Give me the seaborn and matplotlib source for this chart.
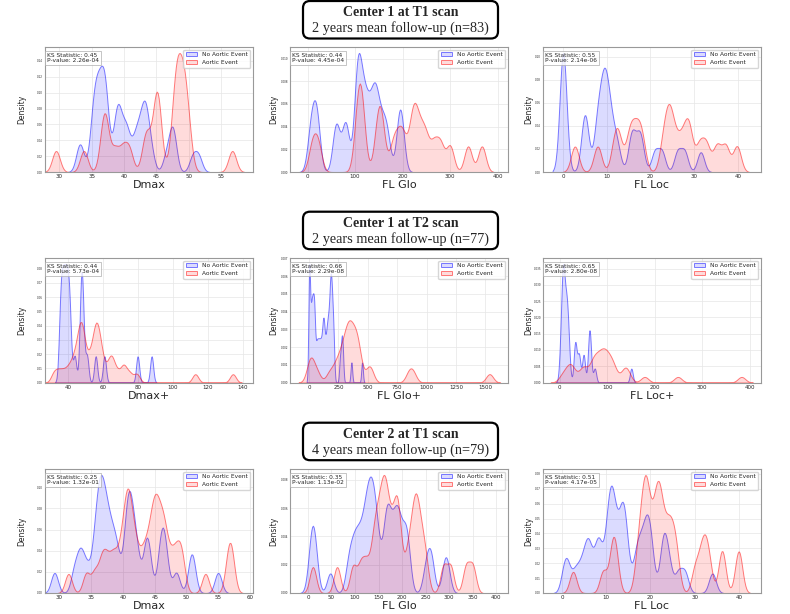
import numpy as np
import matplotlib
matplotlib.use("Agg")
import matplotlib.pyplot as plt
from matplotlib.patches import FancyBboxPatch
from matplotlib.ticker import MultipleLocator
from matplotlib.colors import to_rgba
import seaborn as sns

sns.set_theme(style="whitegrid")
plt.rcParams["font.family"] = ["DejaVu Sans"]

# ---------------- data ----------------
row_titles = ["Center 1 at T1 scan", "Center 1 at T2 scan", "Center 2 at T1 scan"]
row_subtitles = ["2 years mean follow-up (n=83)", "2 years mean follow-up (n=77)",
                 "4 years mean follow-up (n=79)"]
features = ["Dmax", "FL Glo", "FL Loc", "Dmax+", "FL Glo+", "FL Loc+", "Dmax", "FL Glo", "FL Loc"]
group_labels = ["No Aortic Event", "Aortic Event"]
ks_stats = [0.45, 0.44, 0.55, 0.44, 0.66, 0.65, 0.25, 0.35, 0.51]
p_values = [2.26e-04, 4.45e-04, 2.14e-06, 5.73e-04, 2.29e-08, 2.80e-08, 1.32e-01, 1.13e-02, 4.17e-05]

c1t1_dmax_no = [33.0, 33.4, 35.0, 35.2, 35.4, 35.6, 35.8, 36.0, 36.2, 36.4, 36.6, 36.8, 37.0, 37.1,
                37.2, 37.4, 38.6, 38.8, 39.0, 39.2, 39.5, 40.0, 40.4, 40.6, 41.5, 41.9, 42.3, 42.7,
                43.0, 43.2, 43.4, 43.6, 44.2, 46.5, 47.3, 47.5, 47.7, 50.6, 51.5]
c1t1_dmax_ev = [29.5, 33.8, 36.7, 37.0, 37.3, 38.6, 39.8, 40.8, 43.2, 43.7, 44.8, 45.0, 45.2, 45.4,
                47.5, 47.9, 48.0, 48.3, 48.5, 48.8, 49.1, 49.3, 49.6, 50.0, 56.7]
c1t1_glo_no = [4, 8, 12, 17, 19, 22, 57, 60, 64, 77, 80, 83, 101, 103, 105, 106, 107, 109, 113,
               116, 119, 122, 126, 130, 134, 138, 141, 143, 146, 150, 155, 160, 165, 170, 191, 194,
               196, 199]
c1t1_glo_ev = [10, 22, 104, 108, 112, 116, 146, 152, 157, 180, 192, 202, 218, 224, 230, 240, 250,
               266, 280, 300, 338, 367]
c1t1_loc_no = [0.0, 0.0, 0.0, 0.0, 0.0, 0.0, 4.7, 5.0, 5.3, 7.5, 8.0, 8.5, 9.0, 9.3, 9.6, 9.9,
               10.3, 10.8, 11.5, 12.5, 15.5, 16.0, 17.3, 17.9, 21.0, 22.6, 26.2, 27.8, 31.5]
c1t1_loc_ev = [2.7, 7.9, 11.8, 12.8, 15.0, 16.0, 17.1, 18.1, 22.9, 24.0, 24.4, 25.5, 27.0, 28.3,
               29.0, 31.2, 32.8, 35.2, 37.2, 39.8]

c1t2_dmax_no = [35.4, 35.9, 36.4, 36.9, 37.4, 37.9, 38.4, 38.9, 39.4, 39.9, 40.4, 40.9, 41.5, 44.0,
                47.3, 47.6, 47.9, 48.4, 48.8, 51.0, 56.0, 61.0, 80.0, 88.0]
c1t2_dmax_ev = [32.0, 34.5, 37.0, 39.5, 41.5, 43.0, 44.2, 45.2, 46.0, 46.6, 47.2, 47.6, 48.0, 48.4,
                48.9, 49.5, 51.2, 52.3, 53.5, 54.5, 55.3, 55.8, 56.2, 56.6, 57.0, 57.6, 58.3, 59.2,
                60.0, 62.5, 64.3, 65.0, 66.0, 68.5, 71.5, 72.5, 75.5, 79.5, 113.0, 134.5]
c1t2_glo_no = [0, 0, 0, 0, 0, 8, 13, 18, 22, 26, 30, 34, 38, 42, 45, 50, 60, 68, 76, 84, 92, 100,
               108, 115, 120, 125, 130, 138, 146, 152, 158, 163, 168, 173, 177, 180, 183, 186, 189,
               192, 196, 200, 205, 211, 262, 274, 280, 287, 360, 451]
c1t2_glo_ev = [0, 12, 28, 70, 170, 215, 240, 265, 280, 295, 310, 320, 330, 338, 345, 355, 365, 378,
               390, 400, 410, 420, 435, 505, 525, 850, 885, 1537]
c1t2_loc_no = [1, 3, 4.5, 5.5, 6.5, 7, 7.5, 8, 8.5, 9.5, 11, 12.5, 13.5, 14.5, 15.5, 16.5, 18, 20,
               31.5, 33, 34, 40, 41.5, 50, 51, 61.5, 62.5, 63.5, 64.5, 74, 151]
c1t2_loc_ev = [5, 15, 20, 25, 30, 45, 50, 55, 67, 70, 73, 77, 81, 85, 88, 91, 94, 97, 100, 104, 108,
               112, 117, 134, 139, 144, 179, 249, 383]

c2t1_dmax_no = [29.2, 32.3, 33.1, 33.5, 34.3, 35.3, 35.7, 36.0, 36.2, 36.4, 36.6, 36.8, 37.1, 37.3,
                37.6, 38.0, 38.3, 38.8, 39.2, 40.3, 40.6, 40.8, 41.0, 41.2, 41.5, 41.9, 42.3, 43.5,
                43.8, 44.1, 45.8, 46.1, 46.4, 46.8, 48.4, 50.7, 51.0, 55.0]
c2t1_dmax_ev = [31.4, 34.2, 35.5, 36.5, 37.0, 37.6, 38.3, 38.8, 39.5, 39.9, 40.3, 40.5, 40.7, 40.9,
                41.1, 41.4, 41.8, 42.2, 42.9, 43.4, 43.9, 44.3, 44.6, 44.9, 45.1, 45.3, 45.6, 45.9,
                46.2, 46.5, 46.8, 47.4, 48.0, 48.5, 49.0, 49.4, 53.0, 56.5, 56.9, 57.2]
c2t1_glo_no = [5, 9, 12, 16, 47.5, 85, 92, 98, 103, 108, 113, 118, 122, 125, 128, 131, 134, 136, 139,
               142, 146, 150, 162, 165, 168, 171, 175, 180, 185, 188, 191, 195, 200, 206, 210, 213,
               250, 258, 263, 290, 296]
c2t1_glo_ev = [10.6, 62, 96, 112, 124, 137, 143, 148, 153, 157, 161, 164, 167, 172, 178, 184,
               188, 192, 195, 210, 218, 224, 228, 231, 236, 242, 250, 288, 303, 336, 350]
c2t1_loc_no = [0.5, 1.3, 3.0, 4.3, 5.3, 5.9, 6.4, 7.7, 8.2, 8.7, 10.0, 10.4, 10.7, 11.1, 11.3,
               11.6, 12.0, 12.6, 13.3, 13.6, 13.9, 14.2, 14.7, 16.5, 17.2, 17.8, 18.5, 19.0, 19.4,
               19.8, 20.3, 22.6, 23.0, 23.4, 24.3, 26.3, 27.8, 34.0]
c2t1_loc_ev = [2.5, 9.3, 11.2, 11.7, 12.2, 17.0, 17.6, 18.1, 18.5, 18.8, 19.0, 19.3, 19.7, 20.3,
               20.9, 21.3, 21.6, 21.9, 22.2, 22.6, 23.2, 23.8, 24.3, 24.8, 25.4, 26.0, 30.0, 31.2,
               32.0, 32.5, 33.3, 36.1, 36.3, 39.8, 40.1]

panels = [(c1t1_dmax_no, c1t1_dmax_ev), (c1t1_glo_no, c1t1_glo_ev), (c1t1_loc_no, c1t1_loc_ev),
          (c1t2_dmax_no, c1t2_dmax_ev), (c1t2_glo_no, c1t2_glo_ev), (c1t2_loc_no, c1t2_loc_ev),
          (c2t1_dmax_no, c2t1_dmax_ev), (c2t1_glo_no, c2t1_glo_ev), (c2t1_loc_no, c2t1_loc_ev)]

# ---------------- style ----------------
bw_no = [0.55, 7, 0.8, 0.9, 7, 3, 0.55, 7, 0.8]      # kernel widths (data units)
bw_ev = [0.6, 8, 0.9, 1.7, 30, 8, 0.55, 7, 0.8]
xlims = [(27.8, 59.9), (-37, 422), (-4.6, 45.3), (27, 146), (-163, 1694), (-35, 424),
         (27.7, 60.5), (-38, 425), (-4.3, 45.0)]
xsteps = [5, 100, 10, 20, 250, 100, 5, 50, 10]
ysteps = [0.02, 0.002, 0.02, 0.01, 0.001, 0.005, 0.02, 0.002, 0.01]
colors = ["blue", "red"]

W, H = 790, 614
fig = plt.figure(figsize=(W / 100, H / 100), dpi=100)
col_l = [45, 290, 543]
col_r = [253, 508, 761]
row_t = [47, 258, 469]
row_b = [172, 382.5, 593]
ylab_off = [-19, -12, -10]

for i in range(9):
    r, c = divmod(i, 3)
    aw = col_r[c] - col_l[c]
    ah = row_b[r] - row_t[r]
    ax = fig.add_axes([col_l[c] / W, 1 - row_b[r] / H, aw / W, ah / H])
    for vals, lab, col, h in zip(panels[i], group_labels, colors, (bw_no[i], bw_ev[i])):
        arr = np.asarray(vals, dtype=float)
        adj = h / (arr.std(ddof=1) * len(arr) ** (-0.2))
        sns.kdeplot(x=arr, ax=ax, fill=True, bw_adjust=adj, color=col, alpha=0.14,
                    edgecolor=to_rgba(col, 0.5), linewidth=0.7, label=lab)
    ax.set_xlim(*xlims[i])
    ax.xaxis.set_major_locator(MultipleLocator(xsteps[i]))
    ax.yaxis.set_major_locator(MultipleLocator(ysteps[i]))
    ax.grid(True, color="#e6e6e6", linewidth=0.5)
    for s in ax.spines.values():
        s.set_color("#999999")
        s.set_linewidth(0.8)
    ax.tick_params(axis="x", labelsize=4, pad=1.5, length=0)
    ax.tick_params(axis="y", labelsize=2, pad=1.5, length=0)
    ax.set_xlabel(features[i], fontsize=8, labelpad=1)
    ax.set_ylabel("Density", fontsize=5.5)
    ax.yaxis.set_label_coords(ylab_off[c] / aw, 0.5)
    ax.text(0.01, 0.955, f"KS Statistic: {ks_stats[i]:.2f}\nP-value: {p_values[i]:.2e}",
            transform=ax.transAxes, ha="left", va="top", fontsize=4.2,
            bbox=dict(boxstyle="square,pad=0.35", facecolor="white", edgecolor="#aaaaaa",
                      alpha=0.8, linewidth=0.6))
    ax.legend(loc="upper right", fontsize=4.2, framealpha=0.8, edgecolor="#cccccc")

box_tops = [1, 211.7, 422.7]
for r in range(3):
    top = box_tops[r]
    box = FancyBboxPatch((303 / 100, (H - top - 37.5) / 100), 1.95, 0.375,
                         boxstyle="round,pad=0,rounding_size=0.07",
                         transform=fig.dpi_scale_trans, facecolor="white",
                         edgecolor="black", linewidth=1.6)
    fig.add_artist(box)
    fig.text(400.5 / W, 1 - (top + 15.2) / H, row_titles[r], ha="center", va="baseline",
             fontsize=10, fontweight="bold", family="Liberation Serif")
    fig.text(400.5 / W, 1 - (top + 31.3) / H, row_subtitles[r], ha="center", va="baseline",
             fontsize=10.3, family="Liberation Serif")

fig.savefig("out.png", dpi=100)
